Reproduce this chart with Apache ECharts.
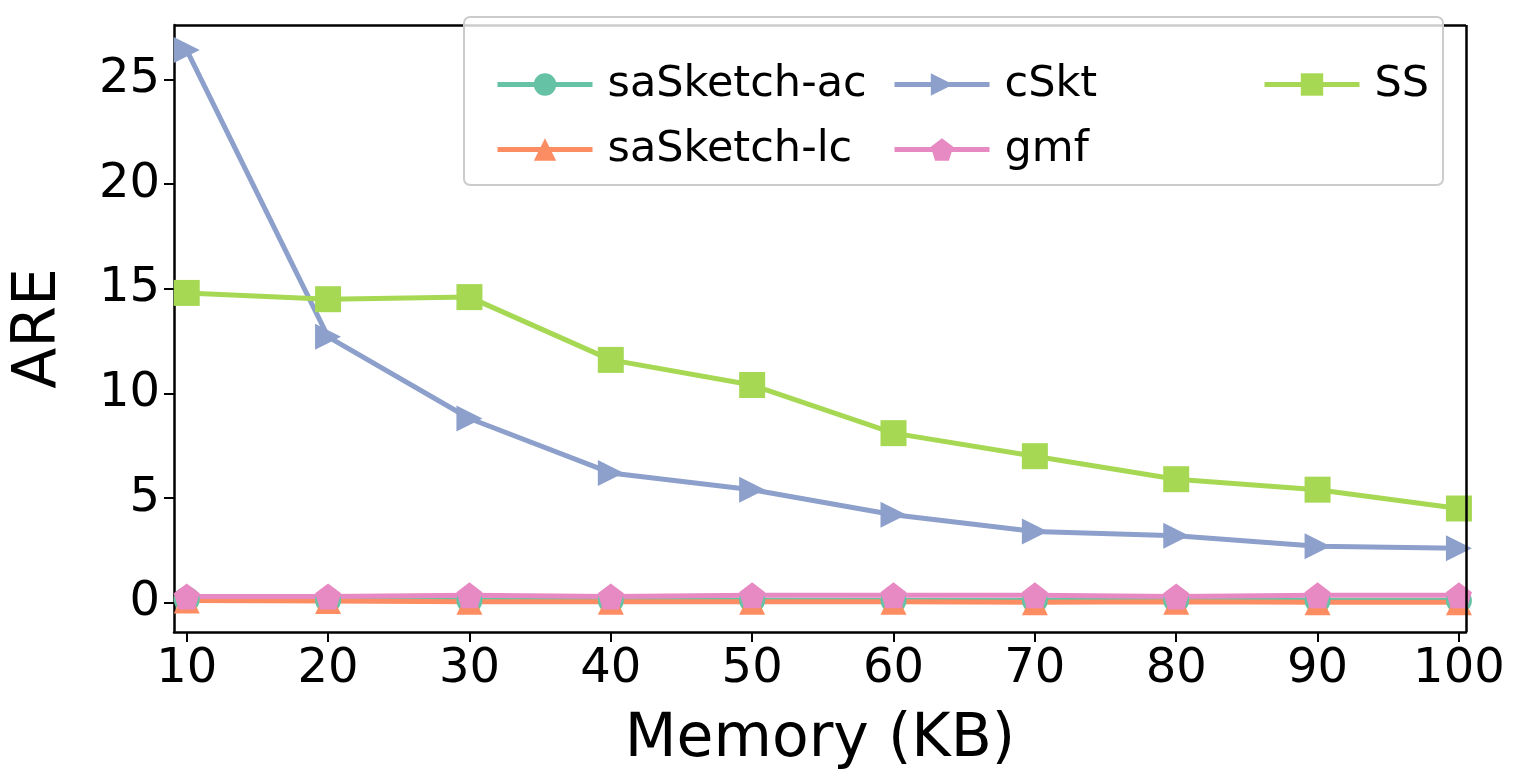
<!DOCTYPE html><html><head><meta charset="utf-8"><script src="https://cdn.jsdelivr.net/npm/echarts@6/dist/echarts.min.js"></script></head><body style="margin:0"><div id="c" style="width:1516px;height:784px"></div><script>
const memory=[10,20,30,40,50,60,70,80,90,100];
const saAc=[0.15,0.12,0.1,0.1,0.12,0.1,0.1,0.12,0.1,0.1];
const saLc=[0.1,0.08,0.05,0.05,0.05,0.05,0.02,0.05,0.02,0.02];
const cSkt=[26.4,12.7,8.8,6.2,5.4,4.2,3.4,3.2,2.7,2.6];
const gmf=[0.3,0.3,0.35,0.3,0.35,0.35,0.35,0.3,0.35,0.35];
const ss=[14.8,14.5,14.6,11.6,10.4,8.1,7.0,5.9,5.4,4.5];
const pent='path://M0,-1 L0.951,-0.309 L0.588,0.809 L-0.588,0.809 L-0.951,-0.309 Z';
const defs=[['saSketch-ac',saAc,'#66c2a5','circle',0],['saSketch-lc',saLc,'#fc8d62','triangle',0],['cSkt',cSkt,'#8da0cb','triangle',-90],['gmf',gmf,'#e78ac3',pent,0],['SS',ss,'#a6d854','rect',0]];
const series=defs.map(d=>({name:d[0],type:'line',data:d[1].map((v,i)=>[memory[i],v]),symbol:d[3],symbolRotate:d[4],symbolSize:26,showSymbol:true,itemStyle:{color:d[2]},lineStyle:{color:d[2],width:5}}));
const lg=(data,left)=>({data:data,left:left,top:58,orient:'vertical',itemGap:22,itemWidth:95,itemHeight:28,lineStyle:{width:5},textStyle:{fontSize:43,fontFamily:'DejaVu Sans',color:'#000',padding:[0,0,0,10]}});
const ch=echarts.init(document.getElementById('c'));
ch.setOption({animation:false,
grid:{left:174,right:50,top:25,bottom:152},
graphic:[{type:'rect',shape:{x:464,y:17,width:979,height:168,r:6},style:{fill:'rgba(255,255,255,0.8)',stroke:'#ccc',lineWidth:2},z:10}],
legend:[lg(['saSketch-ac','saSketch-lc'],490),lg(['cSkt','gmf'],887),lg(['SS'],1257)].map(l=>Object.assign(l,{z:20})),
xAxis:{type:'value',min:9.1,max:100.5,interval:10,name:'Memory (KB)',nameLocation:'middle',nameGap:78,nameTextStyle:{fontSize:60,fontFamily:'DejaVu Sans',color:'#000'},
axisLabel:{fontSize:48,fontFamily:'DejaVu Sans',color:'#000',margin:14,customValues:memory},axisTick:{length:10,lineStyle:{width:2,color:'#000'},customValues:memory},splitLine:{show:false},axisLine:{onZero:false,lineStyle:{color:'#000',width:2.5}}},
yAxis:{type:'value',min:-1.4,max:27.6,name:'ARE',nameLocation:'middle',nameGap:105,nameTextStyle:{fontSize:60,fontFamily:'DejaVu Sans',color:'#000'},
axisLabel:{fontSize:48,fontFamily:'DejaVu Sans',color:'#000',margin:14,customValues:[0,5,10,15,20,25]},axisTick:{length:10,lineStyle:{width:2,color:'#000'},customValues:[0,5,10,15,20,25]},splitLine:{show:false},axisLine:{show:true,onZero:false,lineStyle:{color:'#000',width:2.5}}},
series:series.concat([{type:'line',data:[],markLine:{silent:true,symbol:'none',label:{show:false},lineStyle:{color:'#000',width:2.5,type:'solid'},data:[[{coord:[9.1,27.6]},{coord:[100.5,27.6]}],[{coord:[100.5,27.6]},{coord:[100.5,-1.4]}]]}}])
});
</script></body></html>
